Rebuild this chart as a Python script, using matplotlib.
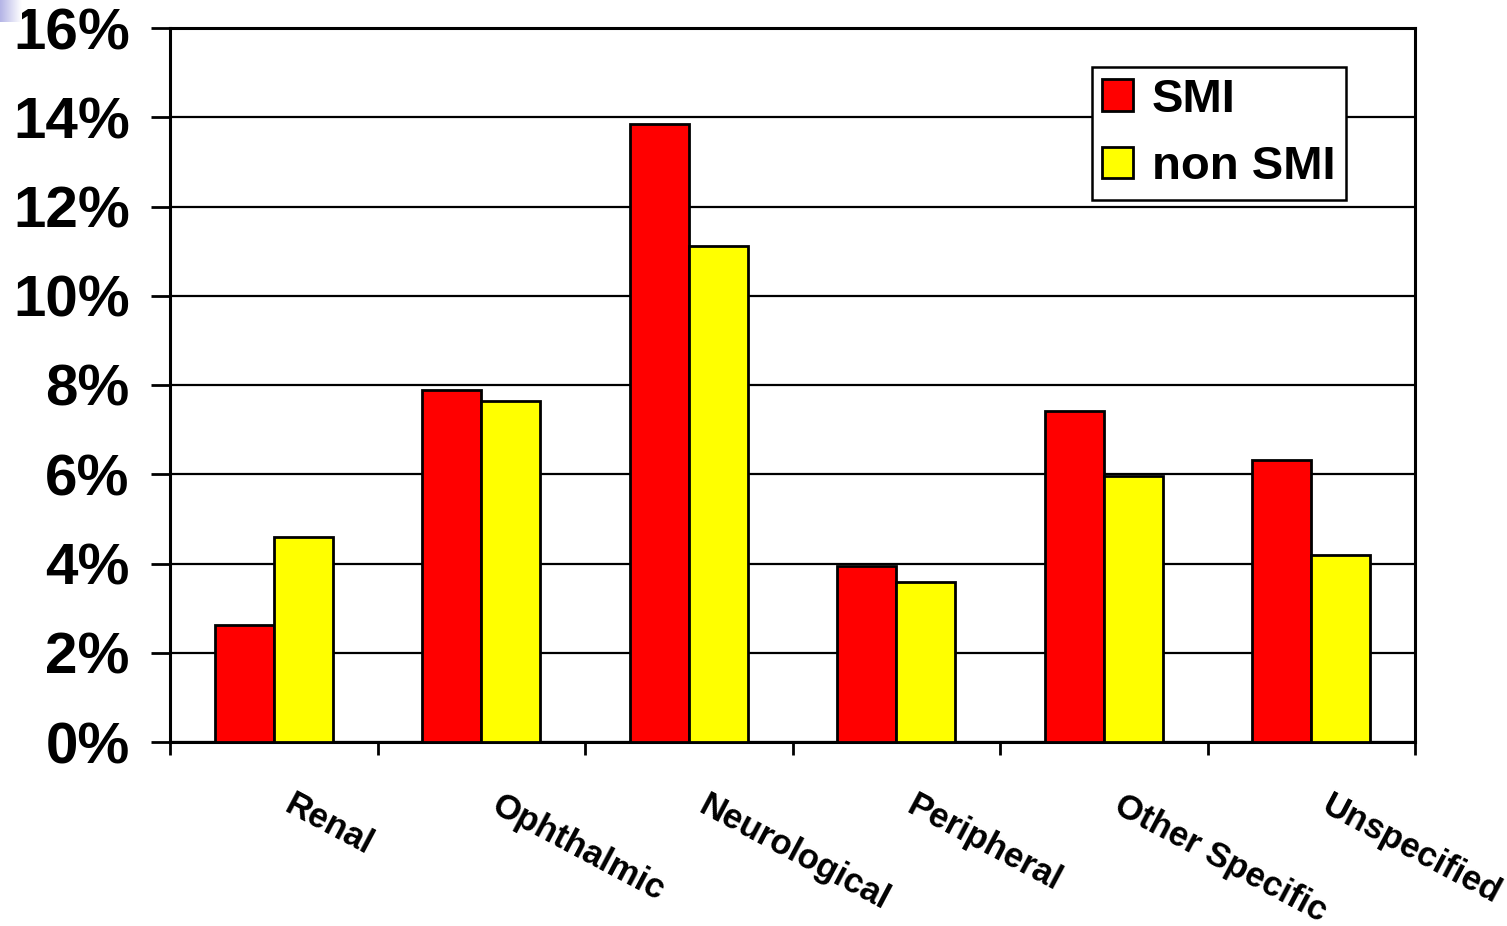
import numpy as np
import matplotlib
matplotlib.use('Agg')
import matplotlib.pyplot as plt
from matplotlib.ticker import FuncFormatter, MultipleLocator

plt.rcParams['font.family'] = ['Liberation Sans', 'DejaVu Sans']
plt.rcParams['font.weight'] = 'bold'

categories = ['Renal', 'Ophthalmic', 'Neurological', 'Peripheral', 'Other Specific', 'Unspecified']
smi = [2.62, 7.89, 13.85, 3.94, 7.42, 6.32]
non_smi = [4.59, 7.64, 11.11, 3.58, 5.96, 4.19]
series_names = ['SMI', 'non SMI']
series_colors = ['#ff0000', '#ffff00']

fig = plt.figure(figsize=(15.07, 9.26), dpi=100)
ax = fig.add_axes([170 / 1507, 1 - 742 / 926, 1245 / 1507, 714 / 926])

x = np.arange(len(categories))
width = 0.285
ax.bar(x - width / 2, smi, width, color=series_colors[0], edgecolor='black', linewidth=2.0,
       label=series_names[0], zorder=3)
ax.bar(x + width / 2, non_smi, width, color=series_colors[1], edgecolor='black', linewidth=2.0,
       label=series_names[1], zorder=3)

ax.set_xlim(-0.5, len(categories) - 0.5)
ax.set_ylim(0, 16)
ax.yaxis.set_major_locator(MultipleLocator(2))
ax.yaxis.set_major_formatter(FuncFormatter(lambda v, p: f'{v:.0f}%'))
ax.grid(axis='y', color='black', linewidth=1.6, zorder=0)
ax.set_axisbelow(True)

for s in ax.spines.values():
    s.set_linewidth(2.2)

ax.tick_params(axis='y', direction='out', length=14, width=2, pad=15, labelsize=42)
for lab in ax.get_yticklabels():
    lab.set_fontweight('bold')

# category boundaries as ticks, labels as separate rotated texts
ax.set_xticks(np.arange(-0.5, len(categories)), minor=False)
ax.set_xticklabels([])
ax.tick_params(axis='x', direction='out', length=9, width=2)
for i, name in enumerate(categories):
    ax.text(i + 0.1, -0.065, name, transform=ax.get_xaxis_transform(),
            rotation=-28, rotation_mode='anchor', ha='left', va='top',
            fontsize=25, fontweight='bold')

leg = ax.legend(loc='upper right', bbox_to_anchor=(0.9446, 0.945), fontsize=34,
                frameon=True, fancybox=False, edgecolor='black', framealpha=1,
                handlelength=0.65, handleheight=0.65, handletextpad=0.4,
                labelspacing=0.5, borderpad=0.22, borderaxespad=0)
leg.get_frame().set_linewidth(1.8)
for t in leg.get_texts():
    t.set_fontweight('bold')
for h in leg.legend_handles:
    h.set_linewidth(2.0)

# slide decoration in the top left corner
deco = fig.add_axes([0, 1 - 22 / 926, 22 / 1507, 22 / 926])
grad = np.linspace(0, 1, 64)[None, :] * np.ones((16, 1))
deco.imshow(grad, cmap=matplotlib.colors.LinearSegmentedColormap.from_list('d', ['#b4b4e6', '#ffffff']),
            aspect='auto')
deco.axis('off')

fig.savefig('out.png', dpi=100)
